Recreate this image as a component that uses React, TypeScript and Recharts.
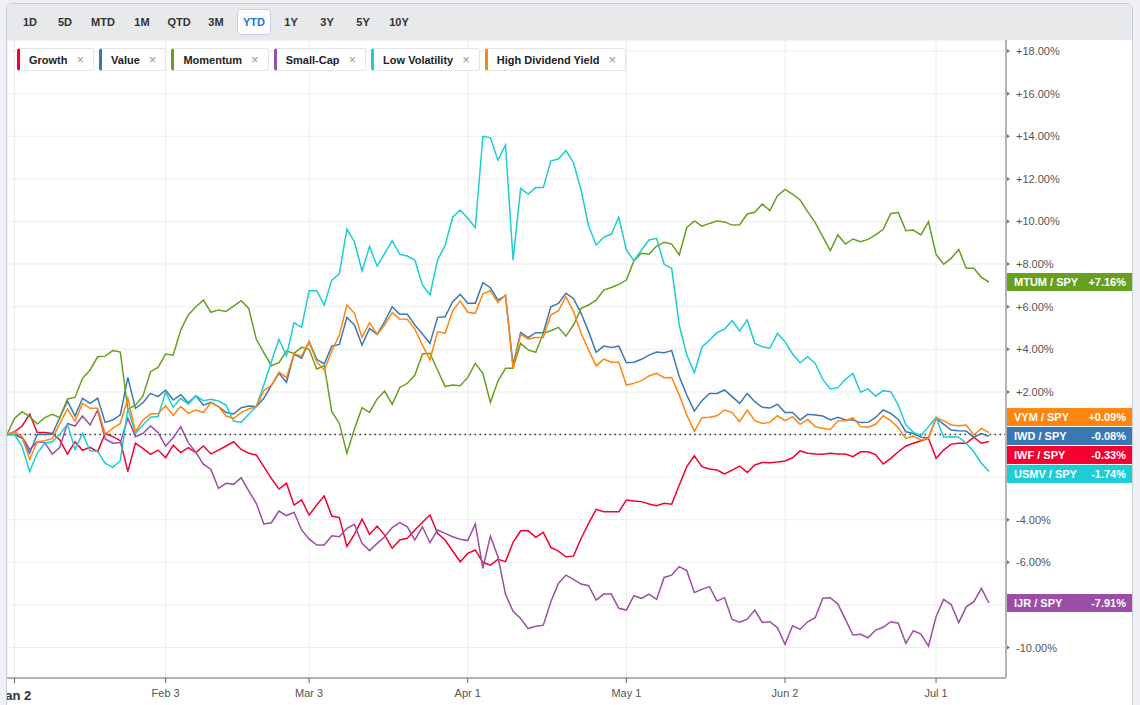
import React from "react";
import {
  LineChart,
  Line,
  XAxis,
  YAxis,
  CartesianGrid,
  ReferenceLine,
  ReferenceDot,
} from "recharts";

// relative performance vs SPY, YTD, one value per trading day (Dec 31 = 0)
const growth = [
  0, 0.13, 0.4, 0.96, 0.09, 0.09, 0.05, -0.26, -0.92, -0.34, -0.74, -0.6, -0.8, 0.05, -0.1, -0.29,
  -1.74, -0.41, -0.65, -0.93, -0.73, -1.09, -0.5, -0.85, -0.62, -0.85, -0.54, -0.91, -0.73, -0.54,
  -0.34, -0.7, -0.88, -0.96, -1.51, -2.06, -2.56, -2.29, -3.31, -3.07, -3.78, -3.31, -2.89, -3.83,
  -3.9, -5.25, -4.69, -3.97, -4.69, -4.3, -4.72, -5.34, -4.95, -4.87, -4.48, -4.12, -3.78, -4.64,
  -4.95, -5.47, -5.97, -5.58, -5.42, -6.0, -6.13, -5.86, -5.97, -5.06, -4.52, -4.51, -4.83, -4.59,
  -5.3, -5.47, -5.74, -5.71, -4.88, -4.17, -3.51, -3.62, -3.63, -3.63, -3.08, -3.12, -3.15, -3.26,
  -3.34, -3.23, -3.27, -2.37, -1.51, -1.0, -1.51, -1.62, -1.67, -1.85, -1.67, -1.48, -1.78, -1.43,
  -1.31, -1.32, -1.29, -1.24, -1.09, -0.77, -0.88, -0.92, -0.93, -0.88, -0.92, -0.92, -1.04, -0.81,
  -0.81, -0.94, -1.38, -1.12, -0.81, -0.54, -0.41, -0.29, -0.18, -1.12, -0.73, -0.45, -0.41, -0.41,
  -0.13, -0.41, -0.33,
];

const value = [
  0, 0, -0.18, -0.88, 0, 0, 0.02, 0.8, 1.57, 0.87, 1.7, 1.46, 1.7, 0.57, 0.68, 0.92, 2.68, 1.23,
  1.49, 1.93, 1.78, 2.09, 1.62, 1.87, 1.49, 1.82, 1.38, 1.51, 1.31, 1.03, 0.96, 1.26, 1.34, 1.31,
  1.7, 2.29, 2.87, 2.45, 3.78, 3.58, 4.36, 3.53, 3.31, 4.15, 4.23, 5.5, 5.14, 4.2, 4.98, 4.7, 5.3,
  6.0, 5.64, 5.64, 5.14, 4.72, 4.28, 5.5, 5.53, 6.24, 6.58, 6.16, 6.16, 7.13, 6.89, 6.31, 6.52,
  3.26, 4.79, 4.55, 4.78, 4.78, 6.0, 6.15, 6.63, 6.39, 5.69, 4.83, 3.86, 4.15, 4.09, 4.15, 3.37,
  3.39, 3.53, 3.73, 3.87, 3.84, 3.94, 2.72, 1.85, 1.1, 1.59, 1.93, 1.93, 2.09, 1.78, 1.46, 1.93,
  1.54, 1.28, 1.24, 1.42, 1.03, 1.03, 0.68, 0.95, 0.92, 0.87, 0.68, 0.81, 0.68, 0.68, 0.56, 0.57,
  0.8, 1.15, 0.99, 0.71, 0.13, 0.05, -0.13, -0.15, 0.76, 0.49, 0.21, 0.18, 0.16, -0.13, 0.05, -0.08,
];

const momentum = [
  0, 0.76, 1.07, 0.84, 0.49, 0.79, 0.95, 0.79, 1.67, 1.74, 2.64, 3.03, 3.65, 3.68, 3.94, 3.87,
  1.18, 1.38, 1.81, 2.95, 3.15, 3.78, 3.72, 4.9, 5.61, 6.0, 6.31, 5.74, 5.85, 5.78, 6.03, 6.28,
  5.92, 4.48, 3.84, 3.23, 3.37, 3.92, 3.81, 4.09, 4.0, 3.08, 3.23, 1.07, 0.52, -0.88, 0.26, 1.26,
  1.04, 1.67, 2.04, 1.42, 2.21, 2.4, 2.79, 3.78, 3.81, 3.03, 2.25, 2.32, 2.29, 2.68, 3.34, 2.87,
  1.51, 2.51, 3.11, 3.11, 4.28, 3.97, 3.86, 4.75, 4.87, 5.03, 4.62, 5.14, 5.92, 6.08, 6.31, 6.78,
  6.9, 7.05, 7.25, 8.16, 8.51, 8.46, 8.85, 9.02, 8.94, 8.43, 9.72, 10.03, 9.78, 9.91, 10.02, 9.98,
  9.83, 9.85, 10.35, 10.43, 10.82, 10.51, 11.21, 11.51, 11.28, 11.01, 10.46, 9.95, 9.29, 8.63,
  9.37, 8.94, 9.18, 9.05, 9.16, 9.37, 9.63, 10.38, 10.42, 9.57, 9.6, 9.37, 9.99, 8.46, 8.0, 8.27,
  8.69, 7.8, 7.8, 7.38, 7.16,
];

const smallCap = [
  0, 0, -0.1, -0.7, -0.34, -0.38, -0.92, -0.6, 0.52, 0.4, 0.87, 0.45, 1.15, -0.21, -0.41, -0.38,
  0.76, -0.1, 0.05, 0.4, 0.09, -0.54, -0.15, 0.37, -0.38, -0.84, -1.39, -1.64, -2.53, -2.29, -2.34,
  -2.03, -2.64, -3.23, -4.2, -4.14, -3.59, -3.81, -3.65, -4.48, -4.9, -5.19, -5.19, -4.75, -4.8,
  -4.4, -4.22, -5.11, -5.45, -5.11, -4.8, -4.37, -4.14, -4.33, -4.95, -4.33, -5.08, -4.48, -4.64,
  -4.8, -4.92, -4.98, -4.2, -6.28, -4.77, -5.74, -7.5, -8.3, -8.64, -9.11, -9.0, -8.95, -7.85,
  -6.99, -6.6, -6.8, -7.02, -7.1, -7.77, -7.49, -7.49, -8.16, -8.24, -7.57, -7.69, -7.49, -7.74,
  -6.71, -6.6, -6.2, -6.39, -7.42, -7.27, -7.14, -7.82, -7.66, -8.68, -8.81, -8.67, -8.24, -8.82,
  -8.79, -9.07, -9.85, -8.98, -9.15, -8.79, -8.6, -7.69, -7.66, -7.96, -8.68, -9.41, -9.38, -9.54,
  -9.18, -9.05, -8.79, -8.86, -9.8, -9.21, -9.37, -9.93, -8.55, -7.74, -7.98, -8.83, -8.09, -7.85,
  -7.22, -7.91,
];

const lowVol = [
  0, 0, -0.57, -1.74, -0.88, -0.41, -0.34, 0.02, 0.49, -0.7, 0.05, -0.76, -0.79, -1.35, -1.54,
  -1.23, 1.23, 0.05, 0.45, 0.81, 0.84, 2.0, 1.28, 1.7, 1.42, 1.82, 1.59, 1.65, 1.57, 1.38, 0.63,
  0.57, 0.95, 1.31, 2.32, 3.42, 4.47, 3.7, 5.25, 5.03, 6.75, 6.75, 6.08, 7.25, 7.54, 9.64, 9.05,
  7.68, 8.82, 7.91, 8.5, 9.1, 8.46, 8.38, 8.19, 7.02, 6.55, 8.19, 8.87, 10.2, 10.54, 10.15, 9.71,
  14.0, 13.93, 12.88, 13.59, 8.19, 11.55, 11.29, 11.59, 11.59, 12.84, 12.93, 13.33, 12.76, 11.48,
  9.79, 8.9, 9.26, 9.41, 10.2, 8.66, 8.16, 8.66, 9.13, 9.21, 7.99, 7.8, 5.14, 3.73, 2.9, 4.1, 4.44,
  4.78, 4.95, 5.34, 4.86, 5.38, 4.28, 4.12, 4.05, 4.75, 4.36, 3.78, 3.37, 3.65, 3.34, 2.59, 2.14,
  2.2, 2.59, 2.87, 1.98, 2.14, 1.8, 2.06, 2.01, 1.38, 0.45, 0.1, -0.05, 0.37, 0.81, -0.13, -0.1,
  -0.13, -0.41, -0.81, -1.35, -1.74,
];

const highDiv = [
  0, 0.13, -0.1, -1.17, -0.34, -0.29, -0.18, 0.52, 1.2, 0.63, 1.46, 1.23, 1.23, 0.02, 0.29, 0.52,
  1.7, 0.13, 0.68, 0.96, 0.99, 1.34, 0.9, 1.31, 0.99, 1.15, 1.03, 1.49, 1.31, 0.87, 0.76, 1.03,
  1.2, 1.31, 2.06, 2.29, 2.93, 2.68, 3.78, 3.69, 4.36, 3.42, 3.03, 3.92, 4.67, 6.08, 5.69, 4.56,
  5.25, 4.7, 5.14, 5.72, 5.42, 5.41, 4.95, 4.2, 3.5, 4.83, 4.75, 5.81, 6.27, 5.74, 5.69, 6.6, 6.75,
  6.19, 6.55, 3.08, 4.71, 4.48, 4.56, 4.56, 5.61, 5.81, 6.47, 5.77, 4.75, 3.97, 3.22, 3.54, 3.39,
  3.39, 2.32, 2.4, 2.53, 2.75, 2.87, 2.67, 2.68, 1.85, 0.91, 0.15, 0.79, 0.81, 0.88, 1.15, 1.03,
  0.6, 1.15, 0.65, 0.52, 0.57, 0.88, 0.65, 0.84, 0.48, 0.71, 0.37, 0.29, 0.24, 0.63, 0.65, 0.79,
  0.37, 0.34, 0.48, 0.88, 0.65, 0.32, -0.18, -0.07, -0.26, -0.18, 0.79, 0.65, 0.45, 0.41, 0.45,
  -0.02, 0.29, 0.09,
];

const tickIdx = [1, 21, 40, 61, 82, 103, 123];
const tickLabels = ["Jan 2", "Feb 3", "Mar 3", "Apr 1", "May 1", "Jun 2", "Jul 1"];
const yTicks = [-10, -8, -6, -4, -2, 0, 2, 4, 6, 8, 10, 12, 14, 16, 18];

const ranges = ["1D", "5D", "MTD", "1M", "QTD", "3M", "YTD", "1Y", "3Y", "5Y", "10Y"];
const rangeX = [30, 65, 103, 142, 179, 216, 254, 291, 327, 363, 399];

const series = [
  { key: "growth", name: "Growth", ticker: "IWF", color: "#f5002f", values: growth },
  { key: "value", name: "Value", ticker: "IWD", color: "#3a78b5", values: value },
  { key: "momentum", name: "Momentum", ticker: "MTUM", color: "#67a020", values: momentum },
  { key: "smallCap", name: "Small-Cap", ticker: "IJR", color: "#9a4ea6", values: smallCap },
  { key: "lowVol", name: "Low Volatility", ticker: "USMV", color: "#1ccdd6", values: lowVol },
  { key: "highDiv", name: "High Dividend Yield", ticker: "VYM", color: "#ff8510", values: highDiv },
];

const X_MAX = 132.26;
const Y_MIN = -11.43;
const Y_MAX = 18.52;
const BADGE_GAP = 0.89; // in % units, ~19px
const FONT = "'Liberation Sans', Arial, sans-serif";

const data = growth.map((_, i) => {
  const row: Record<string, number> = { i };
  series.forEach((s) => (row[s.key] = s.values[i]));
  return row;
});

const fmtPct = (v: number) => (v > 0 ? "+" : v < 0 ? "-" : "") + Math.abs(v).toFixed(2) + "%";

// spread end labels so they don't overlap
function layoutBadges() {
  const items = series
    .map((s) => ({ s, raw: s.values[s.values.length - 1] }))
    .sort((a, b) => b.raw - a.raw);
  let clusters = items.map((it) => ({ items: [it], center: it.raw }));
  let merged = true;
  while (merged) {
    merged = false;
    for (let k = 0; k < clusters.length - 1; k++) {
      const a = clusters[k];
      const b = clusters[k + 1];
      const aBottom = a.center - ((a.items.length - 1) / 2) * BADGE_GAP;
      const bTop = b.center + ((b.items.length - 1) / 2) * BADGE_GAP;
      if (aBottom - bTop < BADGE_GAP) {
        const all = [...a.items, ...b.items];
        const center = all.reduce((t, it) => t + it.raw, 0) / all.length;
        clusters.splice(k, 2, { items: all, center });
        merged = true;
        break;
      }
    }
  }
  const out: { s: (typeof series)[number]; raw: number; pos: number }[] = [];
  clusters.forEach((c) =>
    c.items.forEach((it, j) =>
      out.push({ ...it, pos: c.center + ((c.items.length - 1) / 2 - j) * BADGE_GAP })
    )
  );
  return out;
}

const badges = layoutBadges();

// axis labels sitting under an end badge are hidden, as in the original
const underBadge = (v: number) => badges.some((b) => Math.abs(b.pos - v) < 0.47);

function DateTick(props: any) {
  const { x, y, payload } = props;
  const k = tickIdx.indexOf(payload.value);
  const first = k === 0;
  return (
    <text
      x={x}
      y={y}
      dy={first ? 15 : 12}
      textAnchor="middle"
      fontFamily={FONT}
      fontSize={first ? 13 : 11}
      fontWeight={first ? 700 : 400}
      fill={first ? "#333" : "#555"}
    >
      {tickLabels[k]}
    </text>
  );
}

function PctTick(props: any) {
  const { x, y, payload } = props;
  if (underBadge(payload.value)) return <g />;
  return (
    <g>
      <path d={`M${x - 4},${y - 2}L${x - 1},${y}L${x - 4},${y + 2}Z`} fill="#777" />
      <text x={x + 5} y={y} dy={4} textAnchor="start" fontFamily={FONT} fontSize={11} fill="#555">
        {fmtPct(payload.value)}
      </text>
    </g>
  );
}

function Badge(props: any) {
  const { cx, cy, color, ticker, raw } = props;
  return (
    <g>
      <rect x={cx + 1} y={cy - 9} width={126} height={18} fill={color} />
      <text x={cx + 8} y={cy + 4} fontFamily={FONT} fontSize={11} fontWeight={700} fill="#fff">
        {ticker} / SPY
      </text>
      <text
        x={cx + 120}
        y={cy + 4}
        textAnchor="end"
        fontFamily={FONT}
        fontSize={11}
        fontWeight={700}
        fill="#fff"
      >
        {fmtPct(raw)}
      </text>
    </g>
  );
}

export default function App() {
  return (
    <div
      style={{
        position: "absolute",
        left: 0,
        top: 0,
        width: 1140,
        height: 705,
        background: "#eef0f5",
        overflow: "hidden",
        fontFamily: FONT,
      }}
    >
      <div
        style={{
          position: "absolute",
          left: 6,
          top: 3,
          width: 1125,
          height: 740,
          border: "1px solid #c9cdd5",
          borderRadius: 6,
          background: "#fff",
          overflow: "hidden",
        }}
      >
        <div style={{ position: "absolute", left: -7, top: -4, width: 1140, height: 705 }}>
          <div
            style={{
              position: "absolute",
              left: 7,
              top: 4,
              width: 1125,
              height: 36,
              background: "#e8e9eb",
            }}
          />
          {ranges.map((r, k) => {
            const active = r === "YTD";
            return (
              <div
                key={r}
                style={{
                  position: "absolute",
                  left: rangeX[k] - (active ? 17 : 15),
                  top: active ? 9 : 10,
                  width: active ? 34 : 30,
                  height: active ? 26 : 24,
                  lineHeight: "24px",
                  textAlign: "center",
                  fontSize: 11,
                  fontWeight: 700,
                  color: active ? "#1a73e8" : "#333",
                  background: active ? "#fff" : "transparent",
                  border: active ? "1px solid #c7cfdf" : "none",
                  borderRadius: 4,
                  boxSizing: "border-box",
                }}
              >
                {r}
              </div>
            );
          })}

          <LineChart
            width={1140}
            height={705}
            data={data}
            margin={{ top: 40, right: 6, bottom: 0, left: 7 }}
            style={{ position: "absolute", left: 0, top: 0 }}
          >
            <CartesianGrid stroke="#ececec" strokeWidth={1} />
            <XAxis
              dataKey="i"
              type="number"
              domain={[0, X_MAX]}
              allowDataOverflow
              ticks={tickIdx}
              interval={0}
              height={27}
              axisLine={{ stroke: "#b3b3b3", strokeWidth: 2 }}
              tickLine={{ stroke: "#666" }}
              tickSize={5}
              tick={<DateTick />}
            />
            <YAxis
              orientation="right"
              type="number"
              domain={[Y_MIN, Y_MAX]}
              allowDataOverflow
              ticks={yTicks}
              interval={0}
              width={128}
              axisLine={{ stroke: "#b3b3b3", strokeWidth: 2 }}
              tickLine={false}
              tickSize={3}
              tick={<PctTick />}
            />
            <ReferenceLine y={0} stroke="#333" strokeWidth={1.5} strokeDasharray="1.5 3.5" />
            {series.map((s) => (
              <Line
                key={s.key}
                dataKey={s.key}
                type="linear"
                stroke={s.color}
                strokeWidth={1.5}
                dot={false}
                activeDot={false}
                isAnimationActive={false}
              />
            ))}
            {badges.map((b) => (
              <ReferenceDot
                key={b.s.key}
                x={X_MAX}
                y={b.pos}
                r={0}
                ifOverflow="visible"
                shape={(p: any) => (
                  <Badge {...p} color={b.s.color} ticker={b.s.ticker} raw={b.raw} />
                )}
              />
            ))}
          </LineChart>

          <div
            style={{
              position: "absolute",
              left: 17,
              top: 48,
              display: "flex",
              gap: 5,
            }}
          >
            {series.map((s) => (
              <div
                key={s.key}
                style={{
                  display: "flex",
                  alignItems: "center",
                  height: 23,
                  boxSizing: "border-box",
                  background: "#fff",
                  border: "1px solid #e2e4e8",
                  borderLeft: `3px solid ${s.color}`,
                  borderRadius: 3,
                  padding: "0 9px 0 9px",
                  gap: 9,
                  fontSize: 11,
                  fontWeight: 700,
                  color: "#222",
                }}
              >
                <span>{s.name}</span>
                <span style={{ color: "#999", fontWeight: 400, fontSize: 13 }}>×</span>
              </div>
            ))}
          </div>
        </div>
      </div>
    </div>
  );
}
